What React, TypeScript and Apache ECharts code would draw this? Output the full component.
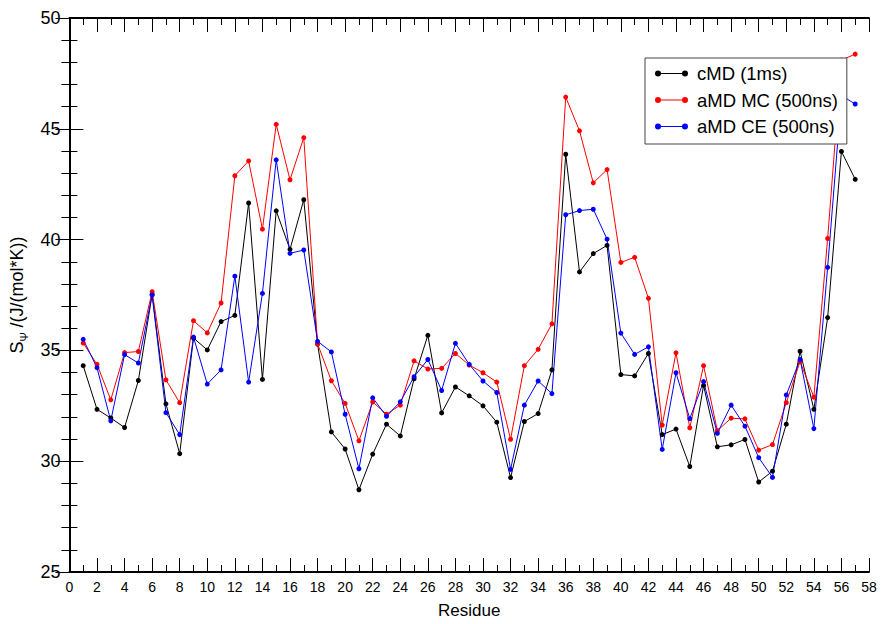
import React, { useEffect, useRef } from "react";
import * as echarts from "echarts";

const residues = [1,2,3,4,5,6,7,8,9,10,11,12,13,14,15,16,17,18,19,20,21,22,23,24,25,26,27,28,29,30,31,32,33,34,35,36,37,38,39,40,41,42,43,44,45,46,47,48,49,50,51,52,53,54,55,56,57];

const cmd = [34.31,32.34,31.95,31.52,33.64,37.53,32.59,30.34,35.56,35.02,36.30,36.58,41.65,33.69,41.3,39.56,41.8,35.29,31.32,30.55,28.71,30.32,31.67,31.14,33.72,35.68,32.18,33.35,32.95,32.50,31.76,29.26,31.79,32.15,34.12,43.85,38.54,39.37,39.74,33.91,33.85,34.86,31.20,31.45,29.76,33.42,30.65,30.74,30.98,29.06,29.55,31.67,34.96,32.34,36.48,43.98,42.72];

const amdMC = [35.33,34.37,32.77,34.90,34.95,37.65,33.67,32.64,36.34,35.79,37.14,42.88,43.55,40.47,45.2,42.7,44.6,35.3,33.63,32.61,30.92,32.67,32.12,32.53,34.53,34.16,34.19,34.86,34.34,33.99,33.57,30.99,34.31,35.05,36.20,46.43,44.91,42.56,43.16,38.97,39.20,37.35,31.63,34.89,31.51,34.31,31.38,31.94,31.91,30.50,30.75,32.64,34.5,32.89,40.05,48.1,48.37];

const amdCE = [35.50,34.22,31.82,34.81,34.43,37.50,32.19,31.20,35.60,33.48,34.12,38.35,33.57,37.57,43.6,39.38,39.53,35.41,34.93,32.12,29.66,32.86,32.03,32.68,33.81,34.59,33.19,35.32,34.37,33.62,33.10,29.63,32.53,33.62,33.05,41.12,41.31,41.37,40.02,35.78,34.82,35.16,30.53,33.99,31.92,33.59,31.26,32.53,31.58,30.16,29.27,32.99,34.59,31.47,38.75,46.5,46.12];

const seriesNames = ["cMD (1ms)", "aMD MC (500ns)", "aMD CE (500ns)"];
const seriesColors = ["#000000", "#ff0000", "#0000ff"];

const xMin = 0, xMax = 58, xInterval = 2;
const yMin = 25, yMax = 50, yInterval = 5;

const FONT = "'Liberation Sans', Arial, Helvetica, sans-serif";

const legendIcon =
  "path://M0,3A3,3 0 1,1 6,3A3,3 0 1,1 0,3Z M5,2.5L28,2.5L28,3.5L5,3.5Z M27,3A3,3 0 1,1 33,3A3,3 0 1,1 27,3Z";

export default function App() {
  const ref = useRef<HTMLDivElement>(null);
  useEffect(() => {
    document.body.style.margin = "0";
    if (!ref.current) return;
    const chart = echarts.init(ref.current, null, { renderer: "svg", width: 881, height: 624 });
    const allData = [cmd, amdMC, amdCE];
    const axisLine = { show: true, lineStyle: { color: "#000", width: 2 } };
    const mkX = (pos: "bottom" | "top", labels: boolean) => ({
      type: "value" as const,
      position: pos,
      min: xMin,
      max: xMax,
      interval: xInterval,
      axisLine,
      axisTick: { show: true, inside: true, length: 14, lineStyle: { color: "#000", width: 1 } },
      minorTick: { show: true, splitNumber: 2, length: 7, lineStyle: { color: "#000", width: 1 } },
      splitLine: { show: false },
      minorSplitLine: { show: false },
      axisLabel: {
        show: labels,
        margin: 8,
        fontSize: 14,
        fontFamily: FONT,
        color: "#000",
      },
      name: labels ? "Residue" : "",
      nameLocation: "middle" as const,
      nameGap: 30,
      nameTextStyle: { fontSize: 17, fontFamily: FONT, color: "#000" },
    });
    const mkY = (pos: "left" | "right", labels: boolean) => ({
      type: "value" as const,
      position: pos,
      min: yMin,
      max: yMax,
      interval: yInterval,
      axisLine,
      axisTick: { show: true, inside: true, length: 14, lineStyle: { color: "#000", width: 1 } },
      minorTick: { show: true, splitNumber: 5, length: 8, lineStyle: { color: "#000", width: 1 } },
      splitLine: { show: false },
      minorSplitLine: { show: false },
      axisLabel: {
        show: labels,
        margin: 9,
        fontSize: 18,
        fontFamily: FONT,
        color: "#000",
      },
      name: labels ? "{s|S}{sub|Ψ}{s| /(J/(mol*K))}" : "",
      nameLocation: "middle" as const,
      nameGap: 34,
      nameTextStyle: {
        fontSize: 18,
        fontFamily: FONT,
        color: "#000",
        rich: {
          s: { fontSize: 18, fontFamily: FONT, color: "#000", lineHeight: 25 },
          sub: { fontSize: 11, fontFamily: FONT, color: "#000", verticalAlign: "bottom" },
        },
      },
    });
    chart.setOption({
      animation: false,
      backgroundColor: "#fff",
      grid: { left: 67, width: 802, top: 18, height: 561, containLabel: false },
      xAxis: [mkX("bottom", true), mkX("top", false)],
      yAxis: [mkY("left", true), mkY("right", false)],
      legend: {
        left: 645,
        top: 58,
        orient: "vertical",
        backgroundColor: "#fff",
        borderColor: "#444",
        borderWidth: 1,
        borderRadius: 0,
        padding: [6, 9, 8, 10],
        itemGap: 7.5,
        itemWidth: 33,
        itemHeight: 6,
        textStyle: { fontSize: 18.5, fontFamily: FONT, color: "#000", padding: [0, 0, 0, 4] },
        itemStyle: { borderWidth: 0 },
        data: seriesNames.map((n) => ({ name: n, icon: legendIcon })),
        z: 10,
      },
      series: seriesNames.map((name, k) => ({
        name,
        type: "line",
        xAxisIndex: 0,
        yAxisIndex: 0,
        data: residues.map((r, i) => [r, allData[k][i]]),
        symbol: "circle",
        symbolSize: 5,
        showSymbol: true,
        color: seriesColors[k],
        lineStyle: { width: 1, color: seriesColors[k] },
        itemStyle: { color: seriesColors[k], borderWidth: 0 },
        emphasis: { disabled: true },
      })),
    });
    return () => chart.dispose();
  }, []);
  return <div ref={ref} style={{ width: 881, height: 624, position: "absolute", left: 0, top: 0, overflow: "hidden" }} />;
}
